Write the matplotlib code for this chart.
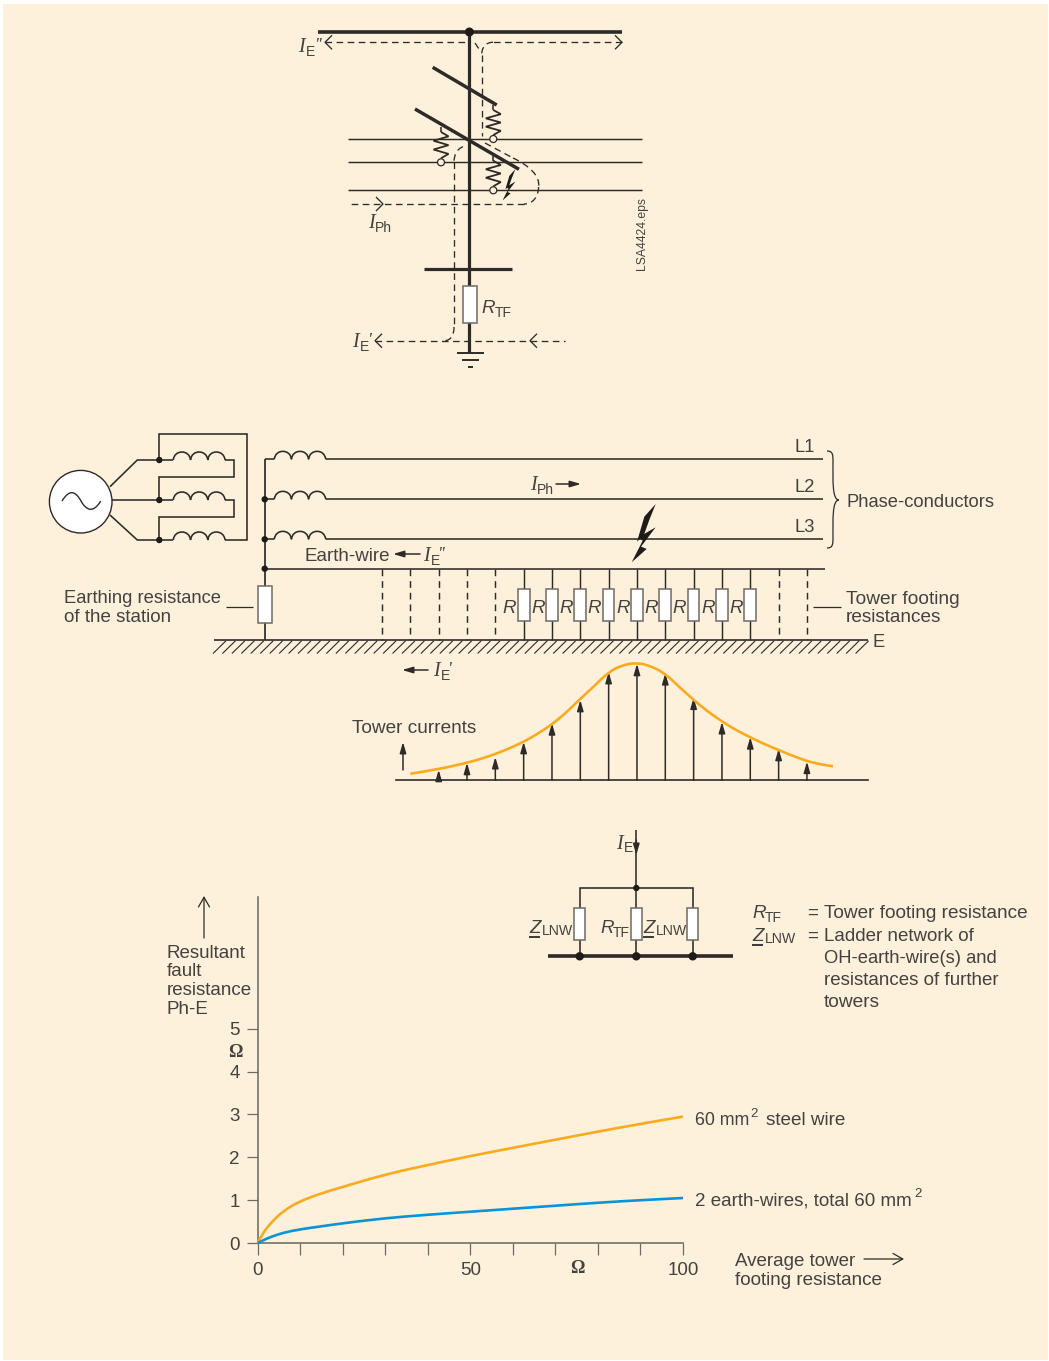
import numpy as np
import matplotlib
matplotlib.use('Agg')
import matplotlib.pyplot as plt
from matplotlib.patches import Rectangle, Circle, Polygon, PathPatch
from matplotlib.path import Path
from matplotlib.collections import LineCollection

W, H = 1049, 1361

# fault resistance chart
avg_footing = [0, 1, 3, 6, 10, 15, 20, 30, 40, 50, 60, 70, 80, 90, 100]
steel_wire = [0, 0.2, 0.46, 0.75, 0.98, 1.16, 1.31, 1.6, 1.82, 2.03, 2.22, 2.41, 2.6, 2.78, 2.95]
two_wires = [0, 0.05, 0.14, 0.24, 0.32, 0.39, 0.46, 0.58, 0.66, 0.73, 0.8, 0.87, 0.94, 1.0, 1.05]
x_ticks = [0, 10, 20, 30, 40, 50, 60, 70, 80, 90, 100]
x_tick_labels = ['0', '', '', '', '', '50', '', '', '', '', '100']
y_ticks = [0, 1, 2, 3, 4, 5]

# tower currents, percent of the peak, tower index along the line
arrow_towers = [2, 3, 4, 5, 6, 7, 8, 9, 10, 11, 12, 13, 14, 15]
arrow_currents = [9, 15, 20, 33, 49, 69, 93, 100, 92, 71, 50, 37, 27, 16]
curve_towers = [1, 2, 3, 3.5, 4, 4.5, 5, 5.5, 6, 6.5, 7, 7.5, 8, 8.5, 9, 9.5, 10, 10.5, 11, 11.5, 12, 12.5, 13, 13.5, 14, 14.5, 15, 15.5, 15.92]
curve_currents = [5.6, 9.5, 15, 18.5, 22.5, 27.5, 33, 40, 48, 58, 70, 81, 93, 99, 101, 98, 91.5, 80, 69, 59, 50.5, 43, 37, 31, 26, 21, 16.5, 13.5, 12]

INK = '#2e2a28'
TXT = '#45413f'
EDGE = '#6f6a66'
BG = '#fdf1dc'
ORANGE = '#f9ab1e'
BLUE = '#0a94d6'
SANS = 'Liberation Sans'
SERIF = 'Liberation Serif'
FS = 13.5

fig = plt.figure(figsize=(W / 100, H / 100), dpi=100, facecolor='white')


def px_axes(left, top, right, bottom):
    return fig.add_axes([left / W, 1 - bottom / H, (right - left) / W, (bottom - top) / H])


ax = px_axes(0, 0, W, H)
ax.set_xlim(0, W)
ax.set_ylim(H, 0)
ax.axis('off')
ax.add_patch(Rectangle((3, 4), W - 4, H - 5, fc=BG, ec='none', zorder=0))


def line(xs, ys, lw=1.15, color=INK, **kw):
    ax.plot(xs, ys, color=color, lw=lw, solid_capstyle='butt', solid_joinstyle='miter', zorder=2, **kw)


def dashed(xs, ys, lw=0.95):
    ax.plot(xs, ys, color=INK, lw=lw, dashes=(5, 3.4), dash_capstyle='butt', zorder=2)


def node(x, y, r=3.2):
    ax.add_patch(Circle((x, y), r, fc='#1f1b19', ec='none', zorder=4))


def resistor(x, y0, y1, w=12.5):
    ax.add_patch(Rectangle((x - w / 2, y0), w, y1 - y0, fc='white', ec=EDGE, lw=1.1, zorder=3))


def txt(x, y, s, size=FS, **kw):
    kw.setdefault('color', TXT)
    kw.setdefault('family', SANS)
    ax.text(x, y, s, fontsize=size, va='baseline', zorder=5, **kw)


def sym(x, y, letter, sub, dx, tail='', tail_dx=0, serif=True):
    # italic symbol with a small sans subscript
    txt(x, y, letter, size=14.5 if serif else FS, family=SERIF if serif else SANS, style='italic')
    txt(x + dx, y + 3.5, sub, size=10)
    if tail:
        txt(x + tail_dx, y - 1, tail, size=13, family=SERIF, style='italic')


def arrow(x0, y0, x1, y1, filled=True, lw=1.1, target=None):
    if filled:
        style = '-|>,head_length=0.65,head_width=0.19'
    else:
        style = '->,head_length=0.7,head_width=0.4'
    (target or ax).annotate('', xy=(x1, y1), xytext=(x0, y0), zorder=4, annotation_clip=False,
                            arrowprops=dict(arrowstyle=style, mutation_scale=10, lw=lw, color=INK,
                                            fc=INK, shrinkA=0, shrinkB=0))


def open_head(x, y, direction, size=7):
    line([x - direction * size, x, x - direction * size], [y - size, y, y + size], lw=0.95)


def coil(x0, x1, y, humps=3):
    # row of humps, drawn as beziers
    w = (x1 - x0) / humps
    verts = [(x0, y)]
    codes = [Path.MOVETO]
    for i in range(humps):
        a = x0 + i * w
        verts += [(a + 0.05 * w, y - 0.62 * w), (a + 0.95 * w, y - 0.62 * w), (a + w, y)]
        codes += [Path.CURVE4] * 3
    ax.add_patch(PathPatch(Path(verts, codes), fc='none', ec=INK, lw=1.15, zorder=2))


def zigzag(x, y0, y1, amp=7.5, n=5):
    ys = np.linspace(y0, y1, n + 2)
    xs = [x] + [x + amp * (-1) ** i for i in range(n)] + [x]
    line(xs, ys, lw=1.3)


def insulator(x, y_top, y_ring):
    line([x, x], [y_top, y_top + 5])
    zigzag(x, y_top + 5, y_ring - 4)
    ax.add_patch(Circle((x, y_ring), 3.5, fc=BG, ec=INK, lw=0.9, zorder=4))


BOLT_TOP = [(72, 0), (38, 38), (16, 113), (36, 95), (52, 50)]
BOLT_LOW = [(72, 70), (20, 100), (33, 110), (0, 175), (45, 135), (28, 128)]


def bolt(x, y, s):
    for pts in (BOLT_TOP, BOLT_LOW):
        ax.add_patch(Polygon([(x + p[0] * s, y + p[1] * s) for p in pts], fc='#1f1b19', ec='none', zorder=5))


def bezier(verts, lw=0.95, dash=None, color=INK):
    codes = [Path.MOVETO] + [Path.CURVE4] * (len(verts) - 1)
    p = PathPatch(Path(verts, codes), fc='none', ec=color, lw=lw, zorder=2)
    if dash:
        p.set_linestyle((0, dash))
    ax.add_patch(p)


def smooth_curve(target, xs, ys, color, lw=1.9):
    # read values as control points, quadratic segments between them
    verts = [(xs[0], ys[0])]
    codes = [Path.MOVETO]
    for i in range(1, len(xs) - 1):
        verts.append((xs[i], ys[i]))
        if i < len(xs) - 2:
            verts.append(((xs[i] + xs[i + 1]) / 2, (ys[i] + ys[i + 1]) / 2))
        else:
            verts.append((xs[i + 1], ys[i + 1]))
        codes += [Path.CURVE3, Path.CURVE3]
    target.add_patch(PathPatch(Path(verts, codes), fc='none', ec=color, lw=lw, clip_on=False, zorder=5))


# ---- top tower diagram
line([318, 622], [32, 32], lw=2.6)
line([469.4, 469.4], [32, 353], lw=2.3)
node(469.4, 32, 4.5)
line([432.7, 496.7], [67.3, 105], lw=2.5)
line([415, 519], [109, 169.3], lw=2.5)
for y in [138.7, 162, 190]:
    line([347.5, 642], [y, y], lw=1.05)
line([423.7, 512], [268.7, 268.7], lw=2.3)
resistor(470, 286.3, 323.3, 13.4)
line([457.3, 484], [352.7, 352.7], lw=1.4)
line([462.3, 479], [360, 360], lw=1.4)
line([468.3, 472.7], [367.3, 367.3], lw=1.4)
insulator(493.3, 105, 139)
insulator(441, 127, 162.3)
insulator(493.3, 155.7, 190.3)
bolt(502.5, 169, 0.18)
dashed([325, 469], [42.3, 42.3])
dashed([622, 493], [42.3, 42.3])
dashed([475, 481], [43, 52])
bezier([(493, 42.3), (486, 42.3), (481.7, 47), (481.7, 55)], dash=(5, 3.4))
dashed([481.7, 481.7], [55, 136])
dashed([485, 513], [143, 158])
bezier([(513, 158), (530, 166), (540, 176), (538.7, 187)], dash=(5, 3.4))
bezier([(538.7, 187), (538, 197), (533, 204), (524, 204)], dash=(5, 3.4))
dashed([524, 348], [204, 204])
bezier([(463, 146.7), (457, 149), (454, 155), (454, 162)], dash=(5, 3.4))
dashed([454, 454], [162, 327])
bezier([(454, 327), (454, 335), (451, 340.7), (444, 340.7)], dash=(5, 3.4))
dashed([375, 565], [340.7, 340.7])
open_head(325, 42.3, -1)
open_head(622, 42.3, 1)
open_head(383, 204, 1)
open_head(375, 340.7, -1)
open_head(530, 340.7, -1)
sym(298, 52, 'I', 'E', 8, "''", 17)
sym(368, 228, 'I', 'Ph', 7)
sym(481.5, 313, 'R', 'TF', 13, serif=False)
sym(352.5, 347, 'I', 'E', 7.5, "'", 15)
txt(645, 270, 'LSA4424.eps', size=8.7, rotation=90, ha='left', rotation_mode='anchor')

# ---- generator and line diagram
ax.add_patch(Circle((80.7, 501.7), 31.3, fc='white', ec=INK, lw=1.0, zorder=3))
sine = [(62, 501), (70, 488), (76, 492), (81, 501), (86, 510), (93, 514), (100.7, 501)]
ax.add_patch(PathPatch(Path(sine, [Path.MOVETO] + [Path.CURVE4] * 6), fc='none', ec=INK, lw=1.0, zorder=4))
line([110, 137.3, 159.3], [486.7, 460, 460])
line([112, 159.3], [500, 500])
line([110, 137.3, 159.3], [515, 540, 540])
for y in [460, 500, 540]:
    node(159.3, y)
    line([159.3, 173.3], [y, y])
    coil(173.3, 225, y)
line([225, 234, 234, 159.3, 159.3], [460, 460, 476.7, 476.7, 500])
line([225, 234, 234, 159.3, 159.3], [500, 500, 517, 517, 540])
line([225, 247, 247, 159.3, 159.3], [540, 540, 434, 434, 460])

line([264.7, 264.7], [459.3, 586], lw=1.25)
line([264.7, 264.7], [623, 640], lw=1.25)
for y in [459.3, 499.3, 539.3]:
    line([264.7, 274.3], [y, y])
    coil(274.3, 325.7, y)
    line([325.7, 823], [y, y])
for y in [499.3, 539.3, 568.7]:
    node(264.7, y)
line([264.7, 825], [568.7, 568.7], lw=1.15)
resistor(265, 586, 623.3, 13.4)
line([226, 253.3], [607, 607], lw=0.9)
line([812.7, 840.7], [607, 607], lw=0.9)

line([214, 868], [640.3, 640.3], lw=1.2)
hatch = [[(x, 653.5), (x + 13, 640.8)] for x in np.arange(213, 856, 9.45)]
ax.add_collection(LineCollection(hatch, colors=INK, linewidths=0.8, zorder=2))

tower_px = [382 + 28.33 * i for i in range(16)]
for i, x in enumerate(tower_px):
    if i < 5 or i > 13:
        ax.plot([x, x], [568.7, 640.3], color=INK, lw=1.05, dashes=(4.6, 3.4), zorder=2)
    else:
        line([x, x], [568.7, 640.3], lw=1.05)
        resistor(x, 589.3, 621, 11.7)
        txt(x - 21, 613, 'R', style='italic', ha='left')
bolt(631.7, 504, 0.333)

# brace next to the conductors
bezier([(827, 451), (833, 451), (833, 455), (833, 462), (833, 480), (832, 500), (839, 500)], lw=0.9)
bezier([(839, 500), (832, 500), (833, 520), (833, 537), (833, 544), (833, 548), (827, 548)], lw=0.9)

txt(795, 452, 'L1', size=13.2)
txt(795, 492, 'L2', size=13.2)
txt(795, 532, 'L3', size=13.2)
txt(846, 507, 'Phase-conductors', size=13.2)
sym(530, 490, 'I', 'Ph', 7)
arrow(556, 484, 581, 484)
txt(305, 561, 'Earth-wire')
arrow(420, 554, 393, 554)
sym(423, 561, 'I', 'E', 7.5, "''", 15)
txt(64, 603, 'Earthing resistance', size=13.2)
txt(64, 622, 'of the station')
txt(846, 604, 'Tower footing', size=13.8)
txt(846, 622, 'resistances', size=13.7)
txt(872, 647, 'E', size=13.2)
arrow(428, 670, 402, 670)
sym(433, 676, 'I', 'E', 7.5, "'", 15)
txt(352, 733, 'Tower currents', size=13.7)
arrow(403, 770, 403, 742)

# ---- tower currents, own axes in tower index / percent
left, right = 396, 868
ax_t = px_axes(left, 780.3 - 116.5, right, 780.3)
ax_t.set_xlim((left - 382) / 28.33, (right - 382) / 28.33)
ax_t.set_ylim(0, 100)
ax_t.patch.set_alpha(0)
for s in ['top', 'left', 'right']:
    ax_t.spines[s].set_visible(False)
ax_t.spines['bottom'].set_color(INK)
ax_t.spines['bottom'].set_linewidth(1.2)
ax_t.set_xticks([])
ax_t.set_yticks([])
for t, c in zip(arrow_towers, arrow_currents):
    arrow(t, 0, t, c, target=ax_t)
smooth_curve(ax_t, curve_towers, curve_currents, ORANGE)

# ---- ladder network sketch
line([636.3, 636.3], [830, 956.3], lw=1.15)
arrow(636.3, 840, 636.3, 855)
line([579.7, 579.7, 692.7, 692.7], [956.3, 888, 888, 956.3], lw=1.15)
node(636.3, 888, 3.2)
line([547.7, 732.7], [956.3, 956.3], lw=2.6)
for x in [579.7, 636.3, 692.7]:
    resistor(x, 908.3, 940, 11.5)
    node(x, 956.3, 4.2)
sym(616.5, 848.5, 'I', 'E', 7)


def z_lnw(x, y):
    txt(x, y, 'Z', style='italic')
    line([x, x + 11], [y + 3.5, y + 3.5], lw=1.3)
    txt(x + 12.5, y + 2, 'LNW', size=10.2)


z_lnw(529.3, 933)
z_lnw(643.3, 933)
sym(600, 933, 'R', 'TF', 12.5, serif=False)
sym(752, 918, 'R', 'TF', 12.5, serif=False)
z_lnw(752, 941)
txt(807, 918, '=')
txt(824, 918, 'Tower footing resistance', size=13.7)
txt(807, 941, '=')
txt(824, 941, 'Ladder network of')
txt(824, 963, 'OH-earth-wire(s) and', size=13.2)
txt(824, 985, 'resistances of further', size=13.5)
txt(824, 1007, 'towers', size=13.8)

# ---- resistance chart
arrow(204, 938, 204, 896, filled=False, lw=0.9)
for y, s in zip([958, 976, 995, 1014], ['Resultant', 'fault', 'resistance', 'Ph-E']):
    txt(167, y, s)
txt(235, 1057, 'Ω', size=13, family=SERIF, ha='center', fontweight='bold')
txt(577, 1273, 'Ω', size=13, family=SERIF, ha='center', fontweight='bold')
txt(695, 1125, '60 mm', size=12.8)
txt(750, 1117, '2', size=9.5)
txt(766, 1125, 'steel wire', size=13.6)
txt(695, 1205, '2 earth-wires, total 60 mm')
txt(914, 1197, '2', size=9.5)
txt(735, 1266, 'Average tower')
txt(735, 1285, 'footing resistance', size=13.6)
arrow(864, 1259, 904, 1259, filled=False, lw=0.9)

ax_c = px_axes(257.7, 897, 683, 1243)
ax_c.set_xlim(0, 100)
ax_c.set_ylim(0, (1243 - 897) / 42.86)
ax_c.patch.set_alpha(0)
ax_c.spines['top'].set_visible(False)
ax_c.spines['right'].set_visible(False)
for s in ['left', 'bottom']:
    ax_c.spines[s].set_color(EDGE)
    ax_c.spines[s].set_linewidth(1.15)
ax_c.set_xticks(x_ticks)
ax_c.set_xticklabels(x_tick_labels, family=SANS, fontsize=FS, color=TXT)
ax_c.set_yticks(y_ticks)
ax_c.set_yticklabels([str(v) for v in y_ticks], family=SANS, fontsize=FS, color=TXT)
ax_c.tick_params(axis='x', length=8.5, width=0.9, color=EDGE, pad=5)
ax_c.tick_params(axis='y', length=8, width=0.9, color=EDGE, pad=5)
smooth_curve(ax_c, avg_footing, steel_wire, ORANGE)
smooth_curve(ax_c, avg_footing, two_wires, BLUE)

fig.savefig('out.png', dpi=100, facecolor='white')
